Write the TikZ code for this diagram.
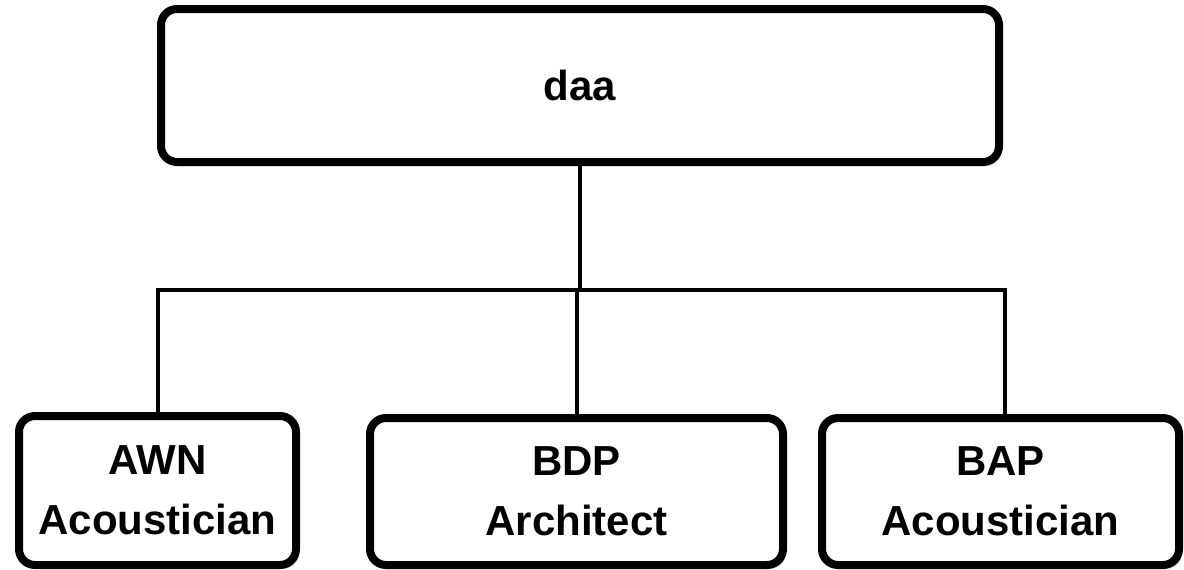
\documentclass[tikz,border=0pt]{standalone}
\usepackage{fontspec}
\setmainfont{Liberation Sans}
\usetikzlibrary{shadows}
\begin{document}
\begin{tikzpicture}[x=1pt,y=-1pt,
  box/.style={draw=black, line width=8pt, rounded corners=16pt, fill=white,
    drop shadow={shadow xshift=3pt, shadow yshift=-4pt, opacity=0.18, fill=black},
    inner sep=0pt, align=center,
    font=\fontsize{42}{60}\selectfont\bfseries},
  conn/.style={draw=black, line width=4pt}]
\useasboundingbox (0,0) rectangle (1184,570);
\node[box, minimum width=838pt, minimum height=153pt] (top) at (580,85.5) {daa};
\node[box, minimum width=277pt, minimum height=149pt] (awn) at (157.5,490.5) {AWN\\Acoustician};
\node[box, minimum width=413pt, minimum height=147pt] (bdp) at (576.5,491.5) {BDP\\Architect};
\node[box, minimum width=357pt, minimum height=147pt] (bap) at (1000.5,491.5) {BAP\\Acoustician};
\coordinate (bus) at (0,289.5);
\coordinate (bapin) at ([xshift=4.5pt]bap.north);
\draw[conn] (top.south) -- (top.south |- bus);
\draw[conn, line cap=rect] (awn.north |- bus) -- (bapin |- bus);
\draw[conn] (awn.north) -- (awn.north |- bus);
\draw[conn] (bdp.north) -- (bdp.north |- bus);
\draw[conn] (bapin) -- (bapin |- bus);
\end{tikzpicture}
\end{document}
